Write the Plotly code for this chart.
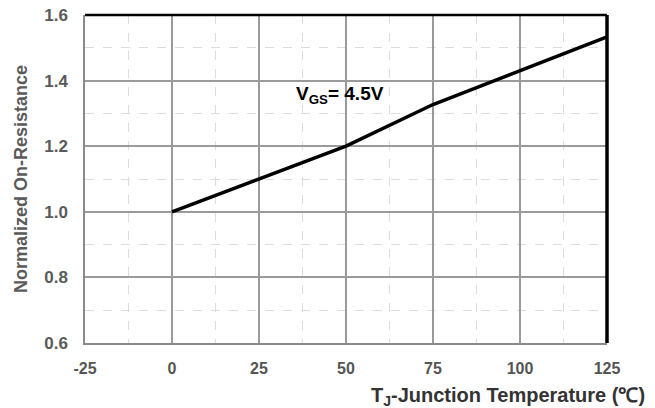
import plotly.graph_objects as go

# Data
temp_c = [0, 25, 50, 75, 100, 125]
norm_rds = [1.0, 1.1, 1.2, 1.327, 1.43, 1.533]
x_ticks = [-25, 0, 25, 50, 75, 100, 125]
x_tick_labels = ["-25", "0", "25", "50", "75", "100", "125"]
y_ticks = [0.6, 0.8, 1.0, 1.2, 1.4, 1.6]
y_tick_labels = ["0.6", "0.8", "1.0", "1.2", "1.4", "1.6"]

fig = go.Figure()
fig.add_trace(go.Scatter(
    x=temp_c, y=norm_rds, mode="lines",
    line=dict(color="black", width=3.5),
    showlegend=False, hoverinfo="skip"))

fig.add_annotation(x=48.3, y=1.355, xref="x", yref="y",
                   text="<b>V<sub>GS</sub>= 4.5V</b>", showarrow=False,
                   font=dict(family="Arial, Liberation Sans", size=19, color="black"))

# x-axis title, right-aligned like the reference
fig.add_annotation(x=1.077, y=-0.162, xref="paper", yref="paper",
                   xanchor="right", yanchor="middle",
                   text="<b>T<sub>J</sub>-Junction Temperature (\u2103)</b>", showarrow=False,
                   font=dict(family="Arial, Liberation Sans", size=20, color="#333333"))

fig.update_layout(
    width=655, height=408,
    margin=dict(l=85, r=48, t=15, b=65),
    paper_bgcolor="white", plot_bgcolor="white",
    font=dict(family="Arial, Liberation Sans"),
    xaxis=dict(
        range=[-25, 125], tickvals=x_ticks,
        ticktext=["<b>%s</b>" % t for t in x_tick_labels],
        showgrid=True, gridcolor="#9a9a9a", gridwidth=1.5,
        minor=dict(dtick=12.5, showgrid=True, gridcolor="#dcdcdc", griddash="dash", gridwidth=1),
        showline=True, linecolor="#8a8a8a", linewidth=1.5,
        zeroline=False, ticks="", ticklabelstandoff=10,
        tickfont=dict(size=16, color="#555555"),
        automargin=False,
    ),
    yaxis=dict(
        range=[0.6, 1.6], tickvals=y_ticks,
        ticktext=["<b>%s</b>" % t for t in y_tick_labels],
        showgrid=True, gridcolor="#9a9a9a", gridwidth=1.5,
        minor=dict(dtick=0.1, showgrid=True, gridcolor="#dcdcdc", griddash="dash", gridwidth=1),
        showline=True, linecolor="#8a8a8a", linewidth=1.5,
        zeroline=False, ticks="", ticklabelstandoff=12,
        tickfont=dict(size=17, color="#5a5a5a"),
        title=dict(text="<b>Normalized On-Resistance</b>",
                   font=dict(size=18, color="#5a5a5a"), standoff=12),
        automargin=False,
    ),
)

# Heavy top and right frame
fig.add_shape(type="line", xref="x domain", yref="y domain", x0=0, x1=1, y0=1, y1=1,
              line=dict(color="black", width=2.5))
fig.add_shape(type="line", xref="x domain", yref="y domain", x0=1, x1=1, y0=0, y1=1,
              line=dict(color="black", width=3.5))

fig.write_html("out.html", config={"displayModeBar": False},
               post_script="document.body.style.margin='0px';")
